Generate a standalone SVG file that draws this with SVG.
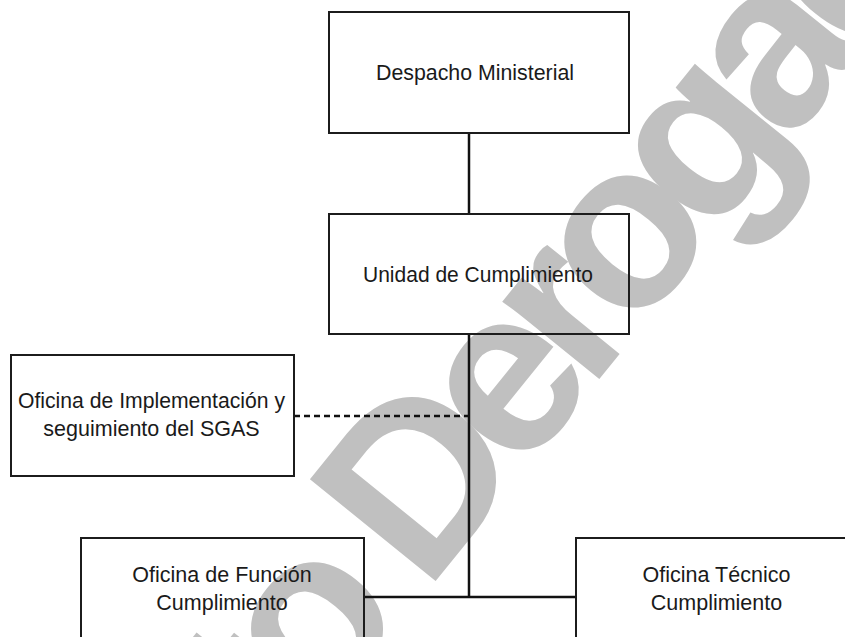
<svg xmlns="http://www.w3.org/2000/svg" width="845" height="637" viewBox="0 0 845 637">
<style>
.box{fill:none;stroke:#1c1c1c;stroke-width:2}
.lbl{font-family:"Liberation Sans",Arial,sans-serif;font-size:21.5px;fill:#1a1a1a;text-anchor:middle}
.con{fill:none;stroke:#111;stroke-width:2.5}
.wm{font-family:"Liberation Sans",Arial,sans-serif;font-weight:bold;font-size:235px;letter-spacing:-20.6px;fill:#c0c0c0}
</style>
<rect width="845" height="637" fill="#ffffff"/>
<g id="watermark">
<text class="wm" x="-472.5" y="0" transform="translate(376.4,654.2) rotate(-51)">Texto Derogado</text>
</g>
<g id="connectors">
<line class="con" x1="469" y1="133" x2="469" y2="214" stroke-width="3"/>
<line class="con" x1="469" y1="334" x2="469" y2="598" stroke-width="2.2"/>
<line class="con" x1="364" y1="597" x2="576" y2="597" stroke-width="3"/>
<line class="con" x1="294" y1="416" x2="469" y2="416" stroke-width="2" stroke-dasharray="6,4"/>
</g>
<g id="despacho">
<rect class="box" x="329" y="12" width="300" height="121"/>
<text class="lbl" x="475" y="80" textLength="198" lengthAdjust="spacingAndGlyphs">Despacho Ministerial</text>
</g>
<g id="unidad">
<rect class="box" x="329" y="214" width="300" height="120"/>
<text class="lbl" x="478" y="282" textLength="230" lengthAdjust="spacingAndGlyphs">Unidad de Cumplimiento</text>
</g>
<g id="sgas">
<rect class="box" x="11" y="355" width="283" height="121"/>
<text class="lbl" x="151.5" y="408" textLength="267" lengthAdjust="spacingAndGlyphs">Oficina de Implementación y</text>
<text class="lbl" x="151.5" y="436">seguimiento del SGAS</text>
</g>
<g id="funcion">
<rect class="box" x="81" y="538" width="283" height="130"/>
<text class="lbl" x="222" y="582">Oficina de Función</text>
<text class="lbl" x="222" y="610">Cumplimiento</text>
</g>
<g id="tecnico">
<rect class="box" x="576" y="538" width="300" height="130"/>
<text class="lbl" x="716.5" y="582">Oficina Técnico</text>
<text class="lbl" x="716.5" y="610">Cumplimiento</text>
</g>
</svg>
